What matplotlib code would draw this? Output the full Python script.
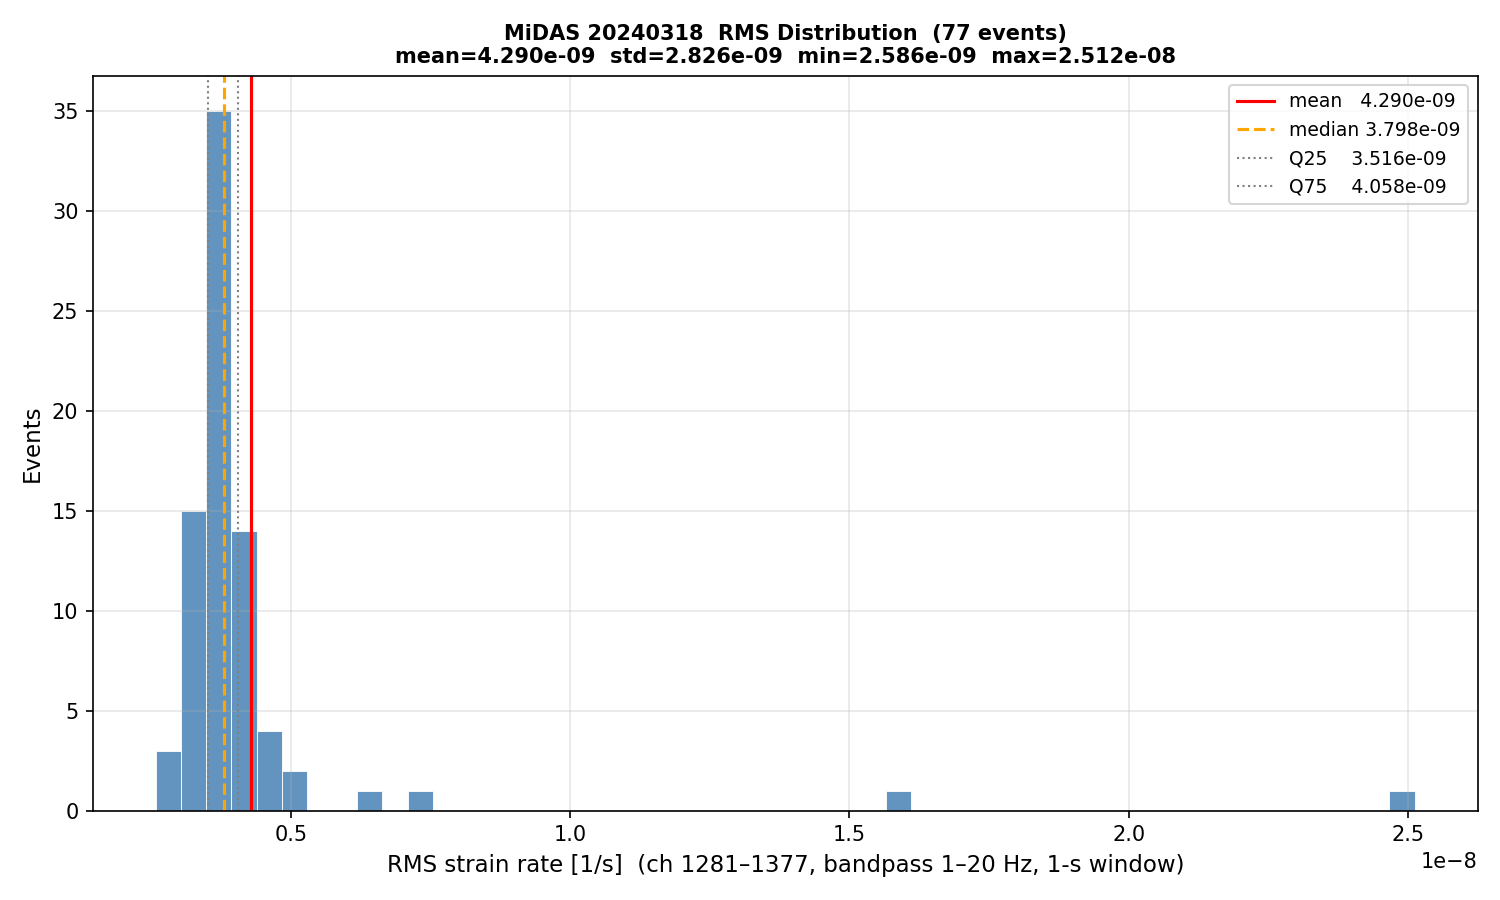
import numpy as np
import matplotlib
matplotlib.use("Agg")
import matplotlib.pyplot as plt

rms_min, rms_max = 2.586e-9, 2.512e-8
n_bins = 50
bin_index = [0, 1, 2, 3, 4, 5, 8, 10, 29, 49]
bin_count = [3, 15, 35, 14, 4, 2, 1, 1, 1, 1]
mean, median, q25, q75, std = 4.290e-9, 3.798e-9, 3.516e-9, 4.058e-9, 2.826e-9

edges = np.linspace(rms_min, rms_max, n_bins + 1)
centers = 0.5 * (edges[:-1] + edges[1:])
weights = np.zeros(n_bins)
for i, c in zip(bin_index, bin_count):
    weights[i] = c

fig, ax = plt.subplots(figsize=(10, 6), dpi=150)
ax.hist(centers, bins=edges, weights=weights, color="steelblue", alpha=0.85, edgecolor="white", linewidth=0.5)
ax.axvline(mean, color="red", lw=1.5, label=f"mean   {mean:.3e}")
ax.axvline(median, color="orange", lw=1.5, ls="--", label=f"median {median:.3e}")
ax.axvline(q25, color="gray", lw=1.0, ls=":", label=f"Q25    {q25:.3e}")
ax.axvline(q75, color="gray", lw=1.0, ls=":", label=f"Q75    {q75:.3e}")
ax.set_xlabel("RMS strain rate [1/s]  (ch 1281\u20131377, bandpass 1\u201320 Hz, 1-s window)", fontsize=11)
ax.set_ylabel("Events", fontsize=11)
ax.set_title(f"MiDAS 20240318  RMS Distribution  (77 events)\nmean={mean:.3e}  std={std:.3e}  min={rms_min:.3e}  max={rms_max:.3e}",
             fontsize=10, fontweight="bold")
ax.grid(alpha=0.3)
ax.legend(fontsize=9, loc="upper right")
fig.subplots_adjust(left=0.062, right=0.985, top=0.916, bottom=0.099)
fig.savefig("out.png")
